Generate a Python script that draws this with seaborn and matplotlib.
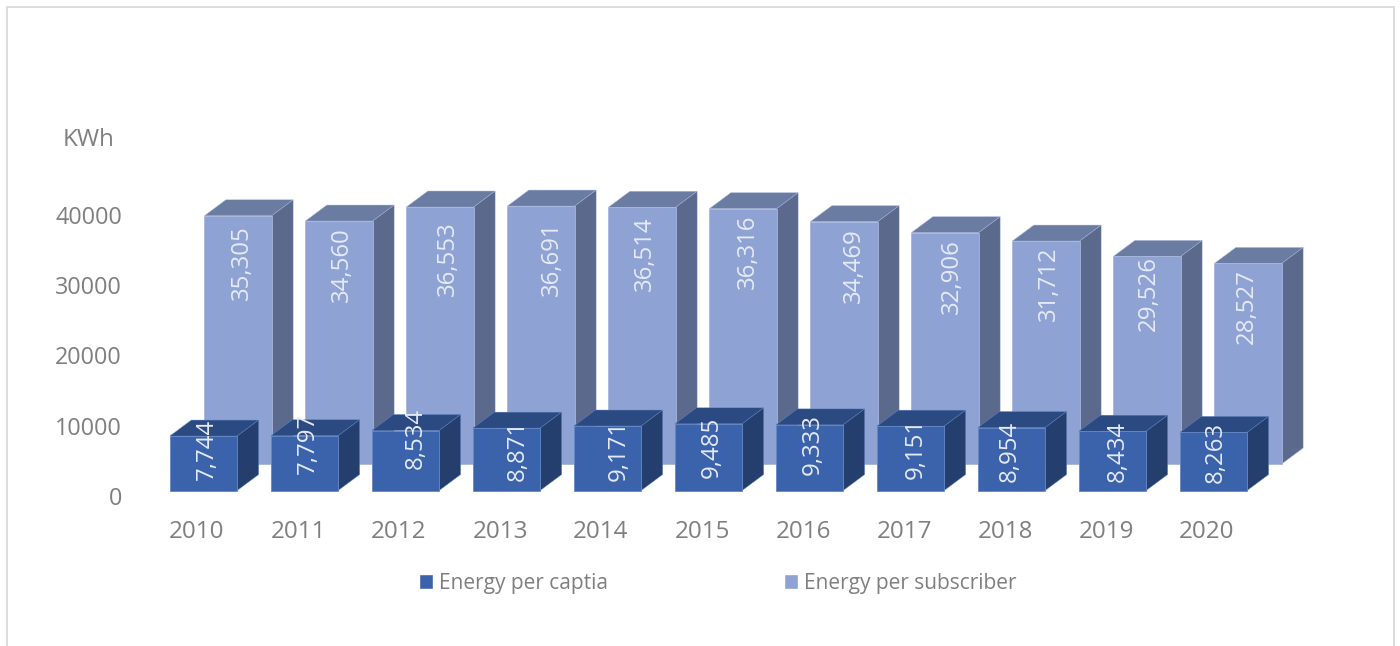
import pandas as pd
import seaborn as sns
import matplotlib.pyplot as plt
from matplotlib.lines import Line2D
from matplotlib.patches import Patch, Polygon

years = ["2010", "2011", "2012", "2013", "2014", "2015", "2016", "2017", "2018", "2019", "2020"]
per_capita = [7744, 7797, 8534, 8871, 9171, 9485, 9333, 9151, 8954, 8434, 8263]
per_subscriber = [35305, 34560, 36553, 36691, 36514, 36316, 34469, 32906, 31712, 29526, 28527]
yticks = [0, 10000, 20000, 30000, 40000]

# label shifts from the bar centre / bar top, in pixels
front_label_dx = [1.5, 1.5, 8, 9, 9.5, 1.5, 1, 3, -4, 3.5, 0]
front_label_dy = [16, 10.5, 10.5, 24.5, 26.5, 26, 22.5, 25, 26, 23, 22.5]
back_label_dx = [2, 1, 5.5, 9, 0.5, 3, 8, 5, 1, 0, -3.5]
back_label_dy = [49, 46, 54.5, 55, 49, 45.5, 46.5, 46.5, 45.5, 40, 46]

sns.set_style("white")
plt.rcParams["font.family"] = ["Open Sans", "DejaVu Sans"]

W, H = 1400, 646
px_x = 101.0           # pixels per category
px_y = 7.03 / 1000     # pixels per kWh
depth_x = 21.5 / px_x
depth_y = 16 / px_y

FRONT = ("#3A63AC", "#2C4A82", "#243F6E", "#6487C6")
BACK = ("#8FA2D4", "#6B7CA2", "#5B6A8C", "#A6B5DD")
TXT = "#7F7F7F"

df = pd.DataFrame({"year": years, "capita": per_capita, "subscriber": per_subscriber})

fig = plt.figure(figsize=(W / 100, H / 100), dpi=100, facecolor="w")
left, right, top, bottom = 140, 1320, 160, 496
ax = fig.add_axes([left / W, 1 - bottom / H, (right - left) / W, (bottom - top) / H])

sns.barplot(data=df, x="year", y="subscriber", color=BACK[0], saturation=1, width=67.3 / px_x,
            edgecolor=BACK[3], linewidth=0.6, ax=ax, zorder=2)
sns.barplot(data=df, x="year", y="capita", color=FRONT[0], saturation=1, width=67.3 / px_x,
            edgecolor=FRONT[3], linewidth=0.6, ax=ax, zorder=6)


def extrude(bars, shift_px, base_px, colors, z):
    # move the flat bars back and add top and side faces
    for bar in bars:
        bar.set_x(bar.get_x() + shift_px / px_x)
        bar.set_y(base_px / px_y)
        x0, x1 = bar.get_x(), bar.get_x() + bar.get_width()
        y0, y1 = bar.get_y(), bar.get_y() + bar.get_height()
        ax.add_patch(Polygon([(x0, y1), (x0 + depth_x, y1 + depth_y), (x1 + depth_x, y1 + depth_y), (x1, y1)],
                             facecolor=colors[1], edgecolor=colors[3], linewidth=0.3, zorder=z))
        ax.add_patch(Polygon([(x1, y0), (x1 + depth_x, y0 + depth_y), (x1 + depth_x, y1 + depth_y), (x1, y1)],
                             facecolor=colors[2], edgecolor=colors[3], linewidth=0.3, zorder=z))


extrude(ax.containers[0], 41, 32, BACK, 1)
extrude(ax.containers[1], 6.5, 5.5, FRONT, 5)


def bar_labels(bars, values, dxs, dys, color):
    for bar, v, dx, dy in zip(bars, values, dxs, dys):
        ax.annotate(f"{v:,}", xy=(bar.get_x() + bar.get_width() / 2, bar.get_y() + bar.get_height()),
                    xytext=(dx + 2, -dy + 2.5), textcoords="offset pixels", rotation=90, ha="center", va="center",
                    fontsize=17.3, color=color, zorder=8)


bar_labels(ax.containers[0], per_subscriber, back_label_dx, back_label_dy, "#E6EAF5")
bar_labels(ax.containers[1], per_capita, front_label_dx, front_label_dy, "#E6EAF5")

ax.set_xlim((left - 197) / px_x, (right - 197) / px_x)
ax.set_ylim(0, (bottom - top) / px_y)
ax.set_yticks(yticks)
ax.set_xlabel("")
ax.set_ylabel("")
ax.tick_params(axis="y", length=0, pad=13, labelsize=16.8, labelcolor=TXT)
ax.tick_params(axis="x", length=0, pad=17, labelsize=17.4, labelcolor=TXT)
sns.despine(ax=ax, left=True, bottom=True)

fig.text(88.5 / W, 1 - 139.5 / H, "KWh", fontsize=17.4, color=TXT, ha="center", va="center")

handles = [Patch(facecolor=FRONT[0], label="Energy per captia"),
           Patch(facecolor=BACK[0], label="Energy per subscriber")]
fig.legend(handles=handles, ncol=2, frameon=False, loc="center left", bbox_to_anchor=(419 / W, 1 - 583 / H),
           fontsize=15, labelcolor=TXT, borderpad=0, borderaxespad=0, handlelength=0.67, handleheight=0.7,
           handletextpad=0.28, columnspacing=8.46)

# outer chart border, open at the bottom
for xs, ys in [((6.5, 6.5), (H, 6.5)), ((6.5, 1393.5), (6.5, 6.5)), ((1393.5, 1393.5), (6.5, H))]:
    fig.add_artist(Line2D([x / W for x in xs], [1 - y / H for y in ys], color="#DCDCDC", linewidth=1.4))

fig.savefig("out.png", dpi=100)
